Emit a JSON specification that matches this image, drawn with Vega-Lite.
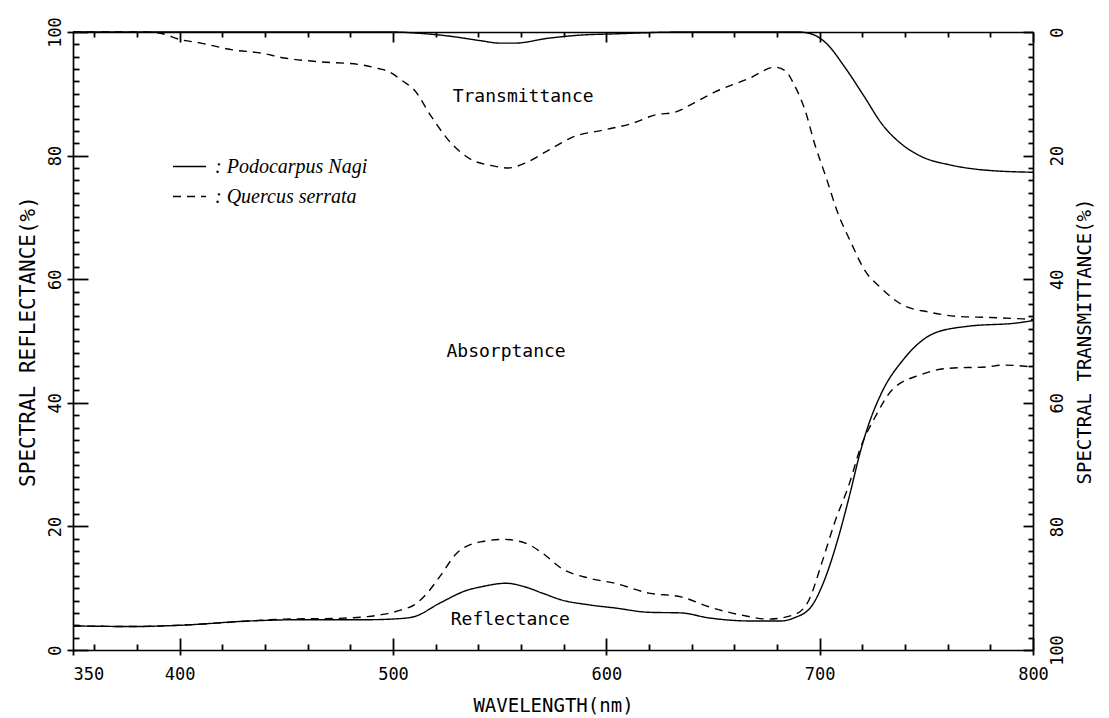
{
  "$schema": "https://vega.github.io/schema/vega-lite/v6.json",
  "width": 960,
  "height": 618,
  "autosize": {"type": "none"},
  "padding": {"left": 73, "top": 32, "right": 76, "bottom": 68},
  "background": "white",
  "config": {
    "view": {"stroke": null},
    "axis": {
      "domainColor": "black", "tickColor": "black", "labelColor": "black", "titleColor": "black",
      "grid": false, "labelFont": "DejaVu Sans Mono", "titleFont": "DejaVu Sans Mono",
      "labelFontSize": 17, "titleFontSize": 19, "titleFontWeight": "normal",
      "domainWidth": 1.7, "tickWidth": 1.8
    }
  },
  "datasets": {
    "reflectance": [
      {"species": "Podocarpus Nagi", "wavelength": 350, "reflectance": 3.9},
      {"species": "Podocarpus Nagi", "wavelength": 378, "reflectance": 3.8},
      {"species": "Podocarpus Nagi", "wavelength": 400, "reflectance": 4.0},
      {"species": "Podocarpus Nagi", "wavelength": 433, "reflectance": 4.7},
      {"species": "Podocarpus Nagi", "wavelength": 457, "reflectance": 4.9},
      {"species": "Podocarpus Nagi", "wavelength": 488, "reflectance": 4.9},
      {"species": "Podocarpus Nagi", "wavelength": 504, "reflectance": 5.1},
      {"species": "Podocarpus Nagi", "wavelength": 510, "reflectance": 5.4},
      {"species": "Podocarpus Nagi", "wavelength": 522, "reflectance": 7.6},
      {"species": "Podocarpus Nagi", "wavelength": 535, "reflectance": 9.7},
      {"species": "Podocarpus Nagi", "wavelength": 541, "reflectance": 10.2},
      {"species": "Podocarpus Nagi", "wavelength": 553, "reflectance": 10.8},
      {"species": "Podocarpus Nagi", "wavelength": 562, "reflectance": 10.2},
      {"species": "Podocarpus Nagi", "wavelength": 570, "reflectance": 9.2},
      {"species": "Podocarpus Nagi", "wavelength": 579, "reflectance": 8.1},
      {"species": "Podocarpus Nagi", "wavelength": 592, "reflectance": 7.3},
      {"species": "Podocarpus Nagi", "wavelength": 604, "reflectance": 6.8},
      {"species": "Podocarpus Nagi", "wavelength": 620, "reflectance": 6.1},
      {"species": "Podocarpus Nagi", "wavelength": 635, "reflectance": 6.0},
      {"species": "Podocarpus Nagi", "wavelength": 648, "reflectance": 5.2},
      {"species": "Podocarpus Nagi", "wavelength": 667, "reflectance": 4.7},
      {"species": "Podocarpus Nagi", "wavelength": 682, "reflectance": 4.7},
      {"species": "Podocarpus Nagi", "wavelength": 688, "reflectance": 5.2},
      {"species": "Podocarpus Nagi", "wavelength": 696, "reflectance": 7.0},
      {"species": "Podocarpus Nagi", "wavelength": 703, "reflectance": 12.0},
      {"species": "Podocarpus Nagi", "wavelength": 709, "reflectance": 18.5},
      {"species": "Podocarpus Nagi", "wavelength": 714, "reflectance": 25.0},
      {"species": "Podocarpus Nagi", "wavelength": 719, "reflectance": 32.0},
      {"species": "Podocarpus Nagi", "wavelength": 722, "reflectance": 35.5},
      {"species": "Podocarpus Nagi", "wavelength": 729, "reflectance": 41.6},
      {"species": "Podocarpus Nagi", "wavelength": 739, "reflectance": 46.9},
      {"species": "Podocarpus Nagi", "wavelength": 754, "reflectance": 51.3},
      {"species": "Podocarpus Nagi", "wavelength": 770, "reflectance": 52.4},
      {"species": "Podocarpus Nagi", "wavelength": 792, "reflectance": 52.9},
      {"species": "Podocarpus Nagi", "wavelength": 800, "reflectance": 53.3},
      {"species": "Quercus serrata", "wavelength": 350, "reflectance": 3.9},
      {"species": "Quercus serrata", "wavelength": 378, "reflectance": 3.8},
      {"species": "Quercus serrata", "wavelength": 400, "reflectance": 4.0},
      {"species": "Quercus serrata", "wavelength": 433, "reflectance": 4.7},
      {"species": "Quercus serrata", "wavelength": 449, "reflectance": 5.0},
      {"species": "Quercus serrata", "wavelength": 472, "reflectance": 5.1},
      {"species": "Quercus serrata", "wavelength": 488, "reflectance": 5.4},
      {"species": "Quercus serrata", "wavelength": 496, "reflectance": 5.8},
      {"species": "Quercus serrata", "wavelength": 504, "reflectance": 6.5},
      {"species": "Quercus serrata", "wavelength": 510, "reflectance": 7.3},
      {"species": "Quercus serrata", "wavelength": 516, "reflectance": 9.2},
      {"species": "Quercus serrata", "wavelength": 522, "reflectance": 11.9},
      {"species": "Quercus serrata", "wavelength": 530, "reflectance": 15.7},
      {"species": "Quercus serrata", "wavelength": 541, "reflectance": 17.5},
      {"species": "Quercus serrata", "wavelength": 552, "reflectance": 17.9},
      {"species": "Quercus serrata", "wavelength": 562, "reflectance": 17.3},
      {"species": "Quercus serrata", "wavelength": 570, "reflectance": 15.7},
      {"species": "Quercus serrata", "wavelength": 579, "reflectance": 13.2},
      {"species": "Quercus serrata", "wavelength": 592, "reflectance": 11.6},
      {"species": "Quercus serrata", "wavelength": 604, "reflectance": 10.8},
      {"species": "Quercus serrata", "wavelength": 620, "reflectance": 9.2},
      {"species": "Quercus serrata", "wavelength": 635, "reflectance": 8.6},
      {"species": "Quercus serrata", "wavelength": 648, "reflectance": 7.0},
      {"species": "Quercus serrata", "wavelength": 664, "reflectance": 5.6},
      {"species": "Quercus serrata", "wavelength": 676, "reflectance": 5.0},
      {"species": "Quercus serrata", "wavelength": 688, "reflectance": 5.7},
      {"species": "Quercus serrata", "wavelength": 695, "reflectance": 8.1},
      {"species": "Quercus serrata", "wavelength": 701, "reflectance": 14.1},
      {"species": "Quercus serrata", "wavelength": 707, "reflectance": 20.6},
      {"species": "Quercus serrata", "wavelength": 714, "reflectance": 27.0},
      {"species": "Quercus serrata", "wavelength": 719, "reflectance": 32.6},
      {"species": "Quercus serrata", "wavelength": 726, "reflectance": 37.7},
      {"species": "Quercus serrata", "wavelength": 734, "reflectance": 42.1},
      {"species": "Quercus serrata", "wavelength": 747, "reflectance": 44.5},
      {"species": "Quercus serrata", "wavelength": 761, "reflectance": 45.6},
      {"species": "Quercus serrata", "wavelength": 778, "reflectance": 45.8},
      {"species": "Quercus serrata", "wavelength": 786, "reflectance": 46.1},
      {"species": "Quercus serrata", "wavelength": 800, "reflectance": 45.8}
    ],
    "transmittance": [
      {"species": "Podocarpus Nagi", "wavelength": 350, "transmittance": 0},
      {"species": "Podocarpus Nagi", "wavelength": 500, "transmittance": 0},
      {"species": "Podocarpus Nagi", "wavelength": 512, "transmittance": 0.2},
      {"species": "Podocarpus Nagi", "wavelength": 526, "transmittance": 0.65},
      {"species": "Podocarpus Nagi", "wavelength": 541, "transmittance": 1.4},
      {"species": "Podocarpus Nagi", "wavelength": 550, "transmittance": 1.8},
      {"species": "Podocarpus Nagi", "wavelength": 557, "transmittance": 1.8},
      {"species": "Podocarpus Nagi", "wavelength": 573, "transmittance": 1.0},
      {"species": "Podocarpus Nagi", "wavelength": 588, "transmittance": 0.5},
      {"species": "Podocarpus Nagi", "wavelength": 604, "transmittance": 0.3},
      {"species": "Podocarpus Nagi", "wavelength": 635, "transmittance": 0},
      {"species": "Podocarpus Nagi", "wavelength": 690, "transmittance": 0},
      {"species": "Podocarpus Nagi", "wavelength": 696, "transmittance": 0.3},
      {"species": "Podocarpus Nagi", "wavelength": 703, "transmittance": 1.8},
      {"species": "Podocarpus Nagi", "wavelength": 712, "transmittance": 5.8},
      {"species": "Podocarpus Nagi", "wavelength": 721, "transmittance": 10.5},
      {"species": "Podocarpus Nagi", "wavelength": 729, "transmittance": 14.8},
      {"species": "Podocarpus Nagi", "wavelength": 739, "transmittance": 18.3},
      {"species": "Podocarpus Nagi", "wavelength": 748, "transmittance": 20.2},
      {"species": "Podocarpus Nagi", "wavelength": 761, "transmittance": 21.5},
      {"species": "Podocarpus Nagi", "wavelength": 776, "transmittance": 22.3},
      {"species": "Podocarpus Nagi", "wavelength": 800, "transmittance": 22.7},
      {"species": "Quercus serrata", "wavelength": 350, "transmittance": 0},
      {"species": "Quercus serrata", "wavelength": 383, "transmittance": 0},
      {"species": "Quercus serrata", "wavelength": 391, "transmittance": 0.2},
      {"species": "Quercus serrata", "wavelength": 400, "transmittance": 1.2},
      {"species": "Quercus serrata", "wavelength": 410, "transmittance": 1.8},
      {"species": "Quercus serrata", "wavelength": 425, "transmittance": 2.9},
      {"species": "Quercus serrata", "wavelength": 438, "transmittance": 3.4},
      {"species": "Quercus serrata", "wavelength": 449, "transmittance": 4.2},
      {"species": "Quercus serrata", "wavelength": 465, "transmittance": 4.8},
      {"species": "Quercus serrata", "wavelength": 485, "transmittance": 5.3},
      {"species": "Quercus serrata", "wavelength": 493, "transmittance": 5.9},
      {"species": "Quercus serrata", "wavelength": 498, "transmittance": 6.4},
      {"species": "Quercus serrata", "wavelength": 504, "transmittance": 7.8},
      {"species": "Quercus serrata", "wavelength": 510, "transmittance": 9.4},
      {"species": "Quercus serrata", "wavelength": 518, "transmittance": 13.7},
      {"species": "Quercus serrata", "wavelength": 526, "transmittance": 17.5},
      {"species": "Quercus serrata", "wavelength": 537, "transmittance": 20.7},
      {"species": "Quercus serrata", "wavelength": 546, "transmittance": 21.6},
      {"species": "Quercus serrata", "wavelength": 554, "transmittance": 22.0},
      {"species": "Quercus serrata", "wavelength": 562, "transmittance": 21.2},
      {"species": "Quercus serrata", "wavelength": 573, "transmittance": 19.1},
      {"species": "Quercus serrata", "wavelength": 585, "transmittance": 16.9},
      {"species": "Quercus serrata", "wavelength": 598, "transmittance": 15.9},
      {"species": "Quercus serrata", "wavelength": 612, "transmittance": 14.8},
      {"species": "Quercus serrata", "wavelength": 623, "transmittance": 13.4},
      {"species": "Quercus serrata", "wavelength": 632, "transmittance": 13.0},
      {"species": "Quercus serrata", "wavelength": 641, "transmittance": 11.5},
      {"species": "Quercus serrata", "wavelength": 651, "transmittance": 9.7},
      {"species": "Quercus serrata", "wavelength": 667, "transmittance": 7.5},
      {"species": "Quercus serrata", "wavelength": 679, "transmittance": 5.7},
      {"species": "Quercus serrata", "wavelength": 684, "transmittance": 6.3},
      {"species": "Quercus serrata", "wavelength": 688, "transmittance": 8.5},
      {"species": "Quercus serrata", "wavelength": 693, "transmittance": 12.5},
      {"species": "Quercus serrata", "wavelength": 698, "transmittance": 18.5},
      {"species": "Quercus serrata", "wavelength": 703, "transmittance": 23.5},
      {"species": "Quercus serrata", "wavelength": 708, "transmittance": 28.8},
      {"species": "Quercus serrata", "wavelength": 715, "transmittance": 34.3},
      {"species": "Quercus serrata", "wavelength": 721, "transmittance": 38.5},
      {"species": "Quercus serrata", "wavelength": 729, "transmittance": 41.5},
      {"species": "Quercus serrata", "wavelength": 739, "transmittance": 44.2},
      {"species": "Quercus serrata", "wavelength": 751, "transmittance": 45.3},
      {"species": "Quercus serrata", "wavelength": 764, "transmittance": 46.0},
      {"species": "Quercus serrata", "wavelength": 780, "transmittance": 46.2},
      {"species": "Quercus serrata", "wavelength": 800, "transmittance": 46.5}
    ],
    "notes": [
      {"label": "Transmittance", "wavelength": 561, "reflectance": 89.5},
      {"label": "Absorptance", "wavelength": 553, "reflectance": 48.2},
      {"label": "Reflectance", "wavelength": 555, "reflectance": 4.9}
    ]
  },
  "layer": [
    {
      "data": {"name": "reflectance"},
      "mark": {"type": "line", "interpolate": "monotone", "color": "black", "strokeWidth": 1.4},
      "encoding": {
        "x": {
          "field": "wavelength", "type": "quantitative",
          "scale": {"domain": [350, 800], "nice": false, "zero": false},
          "axis": {
            "orient": "bottom", "values": [350, 400, 500, 600, 700, 800], "tickSize": 5,
            "labelPadding": 11, "title": "WAVELENGTH(nm)", "titlePadding": 14,
            "labelAlign": {"condition": {"test": "datum.value === 350", "value": "left"}, "value": "center"}
          }
        },
        "y": {
          "field": "reflectance", "type": "quantitative",
          "scale": {"domain": [0, 100], "nice": false, "zero": false},
          "axis": {
            "orient": "left", "values": [0, 20, 40, 60, 80, 100], "tickSize": 6,
            "labelAngle": 270, "labelAlign": "center", "labelBaseline": "bottom", "labelPadding": 3,
            "title": "SPECTRAL REFLECTANCE(%)", "titleFontSize": 21, "titlePadding": 8
          }
        },
        "strokeDash": {
          "field": "species", "type": "nominal",
          "scale": {"domain": ["Podocarpus Nagi", "Quercus serrata"], "range": [[1, 0], [8, 6]]},
          "legend": {
            "orient": "none", "legendX": 99, "legendY": 117, "title": null,
            "symbolType": "stroke", "symbolSize": 1089, "symbolStrokeWidth": 1.3, "symbolStrokeColor": "black",
            "labelFont": "Liberation Serif", "labelFontStyle": "italic", "labelFontSize": 20, "labelColor": "black",
            "labelExpr": "': ' + datum.label", "rowPadding": 2, "labelOffset": 8, "padding": 0,
            "encode": {"symbols": {"update": {"strokeDash": {"signal": "datum.value === 'Quercus serrata' ? [2, 3] : [1, 0]"}}}}
          }
        }
      }
    },
    {
      "data": {"name": "transmittance"},
      "mark": {"type": "line", "interpolate": "monotone", "color": "black", "strokeWidth": 1.4},
      "encoding": {
        "x": {
          "field": "wavelength", "type": "quantitative",
          "scale": {"domain": [350, 800], "nice": false, "zero": false},
          "axis": {
            "orient": "top", "values": [360, 380, 400, 420, 440, 460, 480, 500, 520, 540, 560, 580, 600, 620, 640, 660, 680, 700, 720, 740, 760, 780, 800],
            "tickSize": {"condition": {"test": "datum.value % 100 === 0", "value": -10}, "value": -5},
            "labels": false, "title": null
          }
        },
        "y": {
          "field": "transmittance", "type": "quantitative",
          "scale": {"domain": [0, 100], "reverse": true, "nice": false, "zero": false},
          "axis": {
            "orient": "right",
            "values": [0, 2, 4, 6, 8, 10, 12, 14, 16, 18, 20, 22, 24, 26, 28, 30, 32, 34, 36, 38, 40, 42, 44, 46, 48, 50, 52, 54, 56, 58, 60, 62, 64, 66, 68, 70, 72, 74, 76, 78, 80, 82, 84, 86, 88, 90, 92, 94, 96, 98, 100],
            "tickSize": {"condition": {"test": "datum.value % 20 === 0", "value": -10}, "value": -5},
            "labelExpr": "datum.value % 20 === 0 ? datum.label : ''",
            "labelAngle": 270, "labelAlign": "center", "labelBaseline": "top", "labelPadding": 26,
            "title": "SPECTRAL TRANSMITTANCE(%)", "titleAngle": 270, "titleBaseline": "top", "titlePadding": 10
          }
        },
        "strokeDash": {"field": "species", "type": "nominal"}
      }
    },
    {
      "data": {"name": "notes"},
      "mark": {"type": "text", "font": "DejaVu Sans Mono", "fontSize": 18, "color": "black"},
      "encoding": {
        "x": {
          "field": "wavelength", "type": "quantitative",
          "scale": {"domain": [350, 800], "nice": false, "zero": false},
          "axis": {
            "orient": "bottom", "values": [360, 380, 400, 420, 440, 460, 480, 500, 520, 540, 560, 580, 600, 620, 640, 660, 680, 700, 720, 740, 760, 780, 800],
            "tickSize": {"condition": {"test": "datum.value % 100 === 0", "value": -12}, "value": -6},
            "labels": false, "domain": false, "title": null
          }
        },
        "y": {
          "field": "reflectance", "type": "quantitative",
          "scale": {"domain": [0, 100], "nice": false, "zero": false},
          "axis": {
            "orient": "left",
            "values": [0, 2, 4, 6, 8, 10, 12, 14, 16, 18, 20, 22, 24, 26, 28, 30, 32, 34, 36, 38, 40, 42, 44, 46, 48, 50, 52, 54, 56, 58, 60, 62, 64, 66, 68, 70, 72, 74, 76, 78, 80, 82, 84, 86, 88, 90, 92, 94, 96, 98, 100],
            "tickSize": {"condition": {"test": "datum.value % 20 === 0", "value": -15}, "value": -6},
            "labels": false, "domain": false, "title": null
          }
        },
        "text": {"field": "label", "type": "nominal"}
      }
    }
  ],
  "resolve": {"scale": {"y": "independent"}, "axis": {"x": "independent", "y": "independent"}}
}
